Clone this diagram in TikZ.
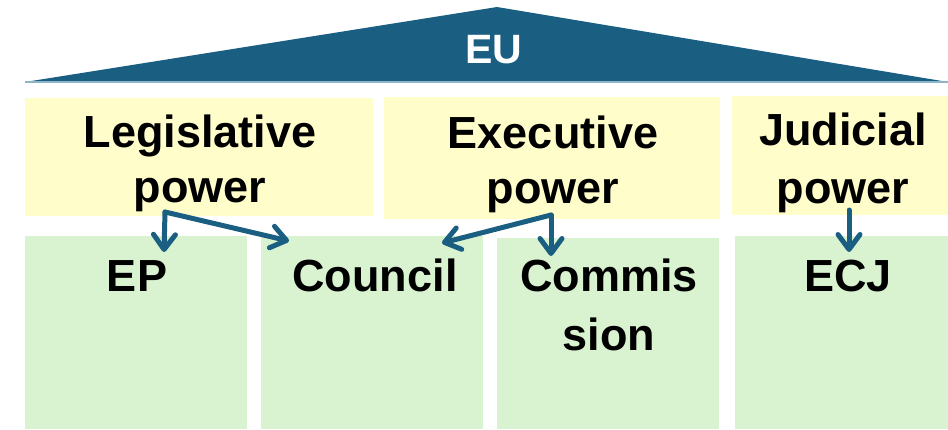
\documentclass[tikz,border=0pt]{standalone}
\usepackage{fontspec}
\setmainfont{Liberation Sans}
\usetikzlibrary{arrows.meta}
\definecolor{eublau}{HTML}{1A5F82}
\definecolor{eulinie}{HTML}{8EB4CA}
\definecolor{gelb}{HTML}{FFFDCA}
\definecolor{gruen}{HTML}{D9F2D0}

\begin{document}
\begin{tikzpicture}[x=1pt,y=-1pt,
  power/.style={fill=gelb,inner sep=0pt},
  organ/.style={fill=gruen,inner sep=0pt},
  lbl/.style={align=center,inner sep=0pt,anchor=base,font=\fontsize{45}{55}\selectfont\bfseries},
  pfeil/.style={eublau,line width=5pt,line cap=round,line join=round,
    -{Straight Barb[length=15pt,width=22pt,line cap=round,line join=round]}}]
  \useasboundingbox (0,0) rectangle (948,429);
  % roof
  \fill[eublau] (25,82) -- (497,7) -- (948,82) -- cycle;
  \draw[eulinie,line width=1.2pt] (25,82) -- (948,82);
  \node[white,inner sep=0pt,anchor=base,font=\fontsize{41}{50}\selectfont\bfseries] (eu) at (494,63) {EU};
  % the three powers
  \node[power,minimum width=348,minimum height=118] (legis) at (199,157) {};
  \node[power,minimum width=336,minimum height=122] (exec) at (552,158) {};
  \node[power,minimum width=216,minimum height=119] (judic) at (840,155.5) {};
  \node[lbl] (legtext) at (200,202) {Legislative\\power};
  \node[lbl] (exetext) at (553,203) {Executive\\power};
  \node[lbl,font=\fontsize{45}{58}\selectfont\bfseries] (judtext) at (843,203) {Judicial\\power};
  % institutions
  \node[organ,minimum width=222,minimum height=193] (epbox) at (136,332.5) {};
  \node[organ,minimum width=222,minimum height=193] (cobox) at (372,332.5) {};
  \node[organ,minimum width=222,minimum height=191] (kobox) at (608,333.5) {};
  \node[organ,minimum width=213,minimum height=193] (gebox) at (841.5,332.5) {};
  \node[lbl] (ep) at (137,291) {EP};
  \node[lbl] (council) at (375,291) {Council};
  \node[lbl,font=\fontsize{45}{59}\selectfont\bfseries] (commission) at (609,350) {Commis\\sion};
  \node[lbl] (ecj) at (848,291) {ECJ};
  % arrows
  \coordinate (legsplit) at (165,212);
  \coordinate (exesplit) at (551,215);
  \coordinate (judsplit) at (849,210);
  \coordinate (eptip) at (164,252);
  \coordinate (colegtip) at (289,241);
  \coordinate (coexetip) at (442,243);
  \coordinate (kotip) at (551,256);
  \coordinate (ecjtip) at (849,252);
  \draw[pfeil] (legsplit) -- (eptip);
  \draw[pfeil] (legsplit) -- (colegtip);
  \draw[pfeil] (exesplit) -- (coexetip);
  \draw[pfeil] (exesplit) -- (kotip);
  \draw[pfeil] (judsplit) -- (ecjtip);
\end{tikzpicture}
\end{document}
